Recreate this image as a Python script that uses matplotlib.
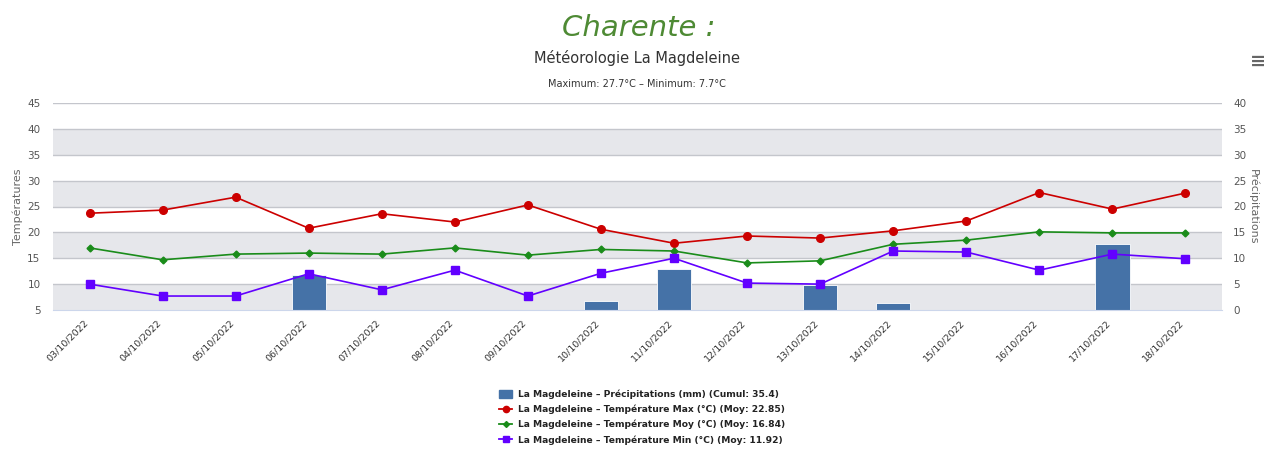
#!/usr/bin/env python3
import matplotlib
matplotlib.use("Agg")
import matplotlib.pyplot as plt
import numpy as np
from matplotlib.lines import Line2D
from matplotlib.patches import Patch

DATES = ["03/10/2022", "04/10/2022", "05/10/2022", "06/10/2022", "07/10/2022",
         "08/10/2022", "09/10/2022", "10/10/2022", "11/10/2022", "12/10/2022",
         "13/10/2022", "14/10/2022", "15/10/2022", "16/10/2022", "17/10/2022",
         "18/10/2022"]
PRECIP = [0, 0, 0, 6.8, 0, 0, 0, 1.7, 8.0, 0, 4.8, 1.4, 0, 0, 12.7, 0]
T_MAX = [23.7, 24.3, 26.8, 20.8, 23.6, 22.0, 25.3, 20.6, 17.9, 19.3, 18.9, 20.3, 22.2, 27.7, 24.5, 27.6]
T_MOY = [17.0, 14.7, 15.8, 16.0, 15.8, 17.0, 15.6, 16.7, 16.4, 14.1, 14.5, 17.7, 18.5, 20.1, 19.9, 19.9]
T_MIN = [10.0, 7.7, 7.7, 12.0, 8.9, 12.7, 7.7, 12.1, 15.0, 10.2, 10.0, 16.4, 16.2, 12.7, 15.8, 14.9]

LEGEND_LABELS = [
    "La Magdeleine – Précipitations (mm) (Cumul: 35.4)",
    "La Magdeleine – Température Max (°C) (Moy: 22.85)",
    "La Magdeleine – Température Moy (°C) (Moy: 16.84)",
    "La Magdeleine – Température Min (°C) (Moy: 11.92)",
]

BAR_COLOR = "#4572a7"
RED = "#cc0000"
GREEN = "#1a8c1a"
PURPLE = "#6200ff"
BAND = "#e6e7eb"
GRID = "#c4c6cc"
AXIS = "#ccd6eb"
LABEL = "#555555"

fig = plt.figure(figsize=(12.64, 4.51), dpi=100)
ax = fig.add_axes([53 / 1264, 1 - 310 / 451, 1169 / 1264, 207 / 451])
ax2 = ax.twinx()

n = len(DATES)
x = np.arange(n)

ax.set_xlim(-0.5, n - 0.5)
ax.set_ylim(5, 45)
ax2.set_ylim(0, 40)

# alternate bands and grid on the back axis (right scale = left - 5)
for lo in range(0, 40, 10):
    ax2.axhspan(lo, lo + 5, color=BAND, zorder=0, lw=0)
for y in range(5, 45, 5):
    ax2.axhline(y, color=GRID, lw=1, zorder=0.5)

ax2.bar(x, PRECIP, width=0.47, color=BAR_COLOR, edgecolor="white", linewidth=0.6, zorder=2)

ax.set_zorder(ax2.get_zorder() + 1)
ax.patch.set_visible(False)
ax2.patch.set_visible(False)

ax.plot(x, T_MAX, color=RED, lw=1.2, marker="o", ms=5.5, zorder=3)
ax.plot(x, T_MOY, color=GREEN, lw=1.2, marker="D", ms=3.5, zorder=3)
ax.plot(x, T_MIN, color=PURPLE, lw=1.2, marker="s", ms=5.5, zorder=3)

ax.set_yticks(range(5, 50, 5))
ax2.set_yticks(range(0, 45, 5))
for a in (ax, ax2):
    a.tick_params(axis="y", length=0, labelsize=7.5, labelcolor=LABEL)
    for s in a.spines.values():
        s.set_visible(False)
ax.tick_params(axis="y", pad=9)
ax2.tick_params(axis="y", pad=8)
ax.spines["bottom"].set_visible(True)
ax.spines["bottom"].set_color(AXIS)

ax.set_xticks(np.arange(-0.5, n, 1.0))
ax.set_xticklabels([])
ax.tick_params(axis="x", which="major", length=7, color=AXIS, width=1)
ax.set_xticks(x - 0.08, minor=True)
ax.set_xticklabels(DATES, minor=True, rotation=45, ha="right", rotation_mode="anchor",
                   fontsize=6.8, color="#333333")
ax.tick_params(axis="x", which="minor", length=0, pad=6)
ax2.set_xticks([])

ax.set_ylabel("Températures", fontsize=8, color="#666666", labelpad=3)
ax2.set_ylabel("Précipitations", fontsize=8, color="#666666", rotation=270, labelpad=9)

fig.text(0.505, 1 - 28 / 451, "Charente :", ha="center", va="center", fontsize=21,
         style="italic", color="#4e8a34")
fig.text(0.504, 1 - 58 / 451, "Météorologie La Magdeleine", ha="center", va="center",
         fontsize=10.5, color="#333333")
fig.text(0.504, 1 - 84 / 451, "Maximum: 27.7°C – Minimum: 7.7°C", ha="center", va="center",
         fontsize=7, color="#333333")
fig.text(1258 / 1264, 1 - 61 / 451, "≡", ha="center", va="center", fontsize=14,
         color="#666666", fontweight="bold")

handles = [
    Patch(facecolor=BAR_COLOR, edgecolor=BAR_COLOR),
    Line2D([], [], color=RED, lw=1.3, marker="o", ms=4.5),
    Line2D([], [], color=GREEN, lw=1.3, marker="D", ms=3),
    Line2D([], [], color=PURPLE, lw=1.3, marker="s", ms=4.5),
]
leg = fig.legend(handles, LEGEND_LABELS, loc="center", bbox_to_anchor=(0.508, 1 - 417 / 451),
                 frameon=False, prop={"size": 6.6, "weight": "bold"}, handlelength=1.4,
                 handleheight=0.9, labelspacing=0.62, handletextpad=0.6)
for t in leg.get_texts():
    t.set_color("#222222")

fig.savefig("out.png", dpi=100)
